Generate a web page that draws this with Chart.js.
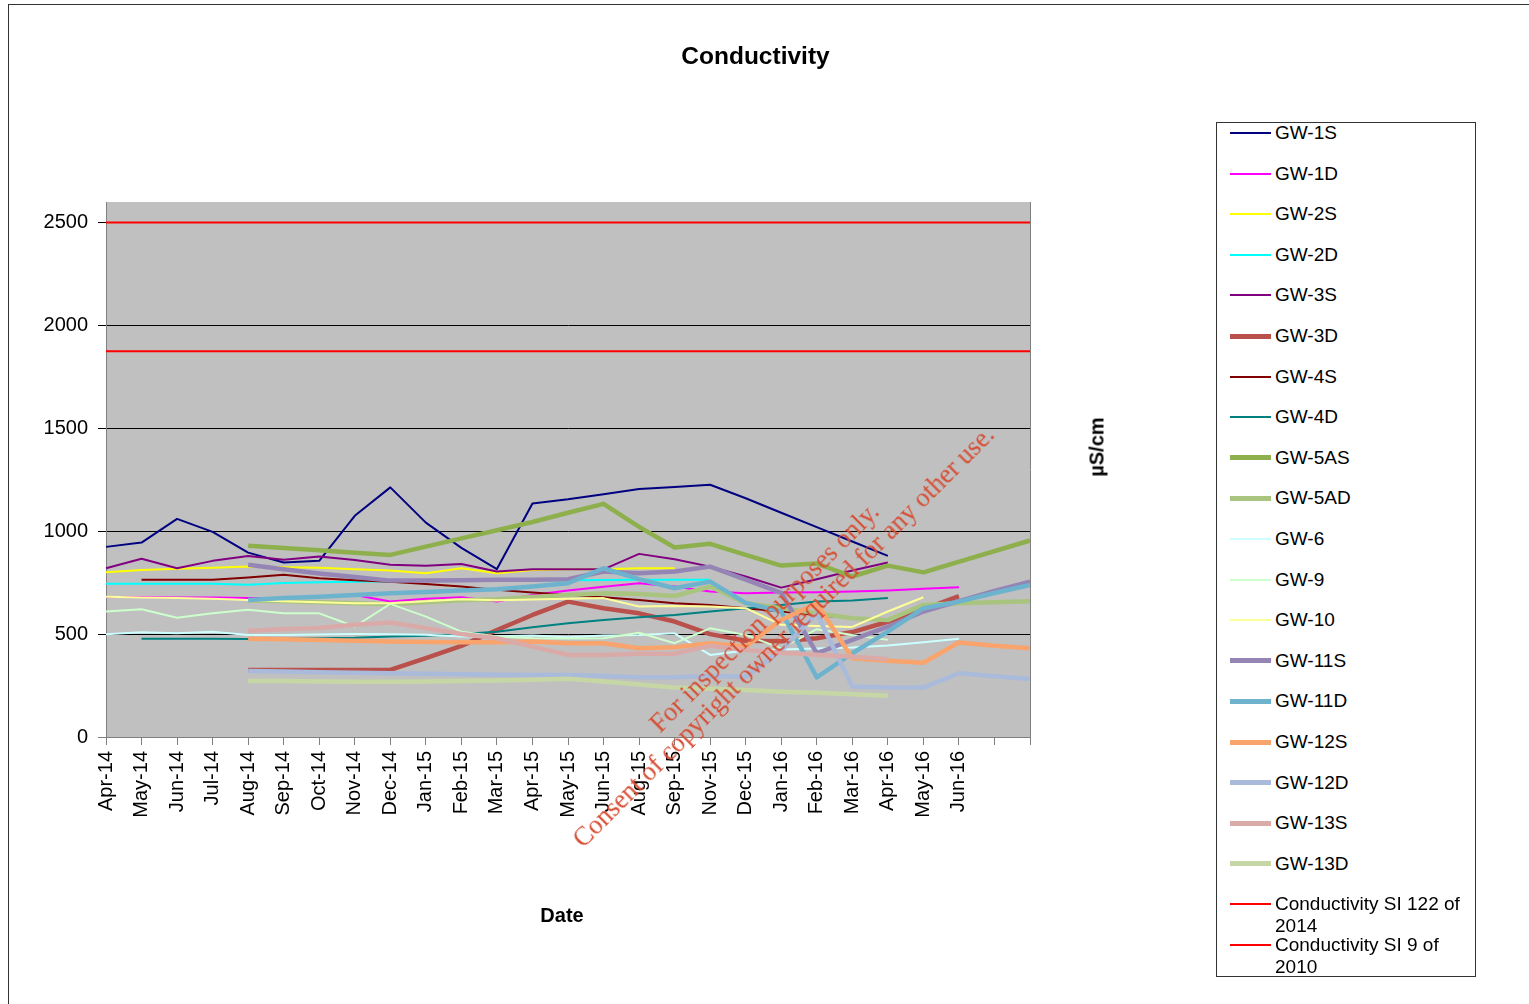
<!DOCTYPE html>
<html>
<head>
<meta charset="utf-8">
<script src="https://cdn.jsdelivr.net/npm/chart.js@4.4.1/dist/chart.umd.min.js"></script>
<style>
html,body{margin:0;padding:0;background:#fff;}
#wrap{position:relative;width:1529px;height:1004px;overflow:hidden;font-family:"Liberation Sans",Arial,sans-serif;color:#000;}
#frame{position:absolute;left:8px;top:4px;width:1700px;height:1200px;border:1px solid #333;box-sizing:border-box;}
#c{position:absolute;left:0;top:0;}
#title{position:absolute;left:0;width:1511px;top:41px;line-height:30px;text-align:center;font-weight:bold;font-size:24.5px;}
#xtitle{position:absolute;left:462px;width:200px;top:903px;line-height:24px;text-align:center;font-weight:bold;font-size:20px;}
#ytitle{position:absolute;left:1097px;top:447px;transform:translate(-50%,-50%) rotate(-90deg);font-weight:bold;font-size:20px;white-space:nowrap;}
#legend{position:absolute;left:1216px;top:122px;width:260px;height:855px;border:1px solid #333;box-sizing:border-box;background:#fff;}
.li{position:absolute;left:0;width:250px;}
.li .sw{position:absolute;left:13px;width:41px;}
.li .tx{position:absolute;left:58px;width:190px;font-size:19px;line-height:22px;}
#wm{position:absolute;left:774px;top:627px;transform:translate(-50%,-50%) rotate(-45deg);font-family:"Liberation Serif","Times New Roman",serif;font-size:26.5px;line-height:27px;color:rgb(214,78,52);text-align:center;white-space:nowrap;}
</style>
</head>
<body>
<div id="wrap">
  <div id="frame"></div>
  <canvas id="c" width="1529" height="1004"></canvas>
  <div id="title">Conductivity</div>
  <div id="xtitle">Date</div>
  <div id="ytitle">µS/cm</div>
  <div id="legend"></div>
  <div id="wm">For inspection purposes only.<br>Consent of copyright owner required for any other use.</div>
</div>
<script>
const categories = ['Apr-14','May-14','Jun-14','Jul-14','Aug-14','Sep-14','Oct-14','Nov-14','Dec-14',
  'Jan-15','Feb-15','Mar-15','Apr-15','May-15','Jun-15','Aug-15','Sep-15','Nov-15','Dec-15',
  'Jan-16','Feb-16','Mar-16','Apr-16','May-16','Jun-16','',''];

const yTicks = [0, 500, 1000, 1500, 2000, 2500];

const seriesNames = ['GW-1S','GW-1D','GW-2S','GW-2D','GW-3S','GW-3D','GW-4S','GW-4D','GW-5AS','GW-5AD',
  'GW-6','GW-9','GW-10','GW-11S','GW-11D','GW-12S','GW-12D','GW-13S','GW-13D',
  'Conductivity SI 122 of 2014','Conductivity SI 9 of 2010'];

const gw1S  = [924,945,1060,997,896,848,856,1075,1213,1042,919,816,1135,1155,1180,1205,1215,1226,1160,1090,1020,950,880,null,null,null,null];
const gw1D  = [680,680,678,678,675,676,680,690,658,672,679,658,690,712,730,747,731,707,699,702,704,707,712,720,728,null,null];
const gw2S  = [801,812,818,822,828,825,822,815,809,796,820,796,812,815,815,820,820,null,null,null,null,null,null,null,null,null,null];
const gw2D  = [745,745,745,745,740,748,752,755,757,758,758,760,760,762,763,764,764,764,null,null,null,null,null,null,null,null,null];
const gw3S  = [820,866,820,856,880,861,877,860,837,832,841,804,815,815,815,890,864,828,780,726,767,809,848,null,null,null,null];
const gw3D  = [null,null,null,null,326,326,326,326,326,383,443,520,593,658,626,601,561,500,468,465,480,510,560,620,685,null,null];
const gw4S  = [null,764,764,764,775,788,772,762,755,743,731,715,702,690,679,666,650,642,626,610,593,577,570,null,null,null,null];
const gw4D  = [null,477,477,477,476,478,480,482,488,492,501,512,533,553,569,582,593,610,626,642,658,663,675,null,null,null,null];
const gw5AS = [null,null,null,null,930,918,907,895,885,925,965,1005,1045,1090,1133,1021,921,939,885,833,843,780,833,800,null,null,955];
const gw5AD = [null,null,null,null,665,660,655,650,645,655,665,670,680,690,698,695,685,731,650,626,601,577,568,642,650,655,660];
const gw6   = [499,509,504,512,496,496,498,500,499,497,488,490,493,485,493,496,504,399,420,425,430,435,445,460,477,null,null];
const gw9   = [610,621,580,601,618,601,601,537,647,585,512,488,480,479,480,507,456,528,496,431,524,496,472,null,null,null,null];
const gw10  = [682,678,675,672,666,660,655,650,650,660,670,665,668,672,675,634,637,634,626,545,540,535,610,679,null,null,null];
const gw11S = [null,null,null,null,837,815,795,778,760,760,762,764,764,767,804,796,804,828,765,700,407,472,536,610,660,710,755];
const gw11D = [null,null,null,null,666,675,682,690,699,705,712,718,731,747,820,767,723,755,652,610,290,407,512,626,658,700,739];
const gw12S = [null,null,null,null,477,475,472,468,464,462,460,460,464,456,456,431,436,456,439,569,650,383,371,361,459,443,431];
const gw12D = [null,null,null,null,321,318,315,312,310,307,305,303,301,301,297,290,290,297,293,420,600,245,240,240,310,295,282];
const gw13S = [null,null,null,null,516,524,530,545,556,529,501,480,439,399,399,404,405,443,423,410,400,390,379,null,null,null,null];
const gw13D = [null,null,null,null,272,272,270,269,269,270,272,275,278,283,270,255,240,235,228,220,215,208,201,null,null,null,null];
const limitSI122 = [2500,2500,2500,2500,2500,2500,2500,2500,2500,2500,2500,2500,2500,2500,2500,2500,2500,2500,2500,2500,2500,2500,2500,2500,2500,2500,2500];
const limitSI9   = [1875,1875,1875,1875,1875,1875,1875,1875,1875,1875,1875,1875,1875,1875,1875,1875,1875,1875,1875,1875,1875,1875,1875,1875,1875,1875,1875];

const seriesValues = [gw1S,gw1D,gw2S,gw2D,gw3S,gw3D,gw4S,gw4D,gw5AS,gw5AD,gw6,gw9,gw10,gw11S,gw11D,gw12S,gw12D,gw13S,gw13D,limitSI122,limitSI9];

const styles = [
  ['#000080',2],['#FF00FF',2],['#FFFF00',2],['#00FFFF',2],['#800080',2],['#B9504C',4.5],
  ['#800000',2],['#008080',2],['#8DB04C',4.5],['#A9C47E',4.5],['#CCFFFF',2],['#CCFFCC',2],
  ['#FFFF99',2],['#9585B5',4.5],['#6DB3CD',4.5],['#F9A46C',4.5],['#A9BADA',4.5],['#DAAAA9',4.5],
  ['#C6D7A5',4.5],['#FF0000',2],['#FF0000',2]
];

const datasets = seriesNames.map((n,i)=>({
  label:n, data:seriesValues[i], borderColor:styles[i][0], backgroundColor:styles[i][0],
  borderWidth:styles[i][1], pointRadius:0, pointHoverRadius:0, fill:false, tension:0,
  spanGaps:true, order:-i
}));

const FONT = '"Liberation Sans", Arial, sans-serif';

const plotBg = {
  id:'plotBg',
  beforeDraw(c){
    const {ctx, chartArea:a} = c;
    ctx.save();
    ctx.fillStyle = '#C0C0C0';
    ctx.fillRect(a.left, a.top, a.right-a.left, a.bottom-a.top);
    ctx.restore();
  },
  afterDraw(c){
    const {ctx, chartArea:a} = c;
    ctx.save();
    ctx.strokeStyle = '#808080';
    ctx.lineWidth = 1;
    ctx.beginPath();
    ctx.moveTo(a.right+0.5, a.top);
    ctx.lineTo(a.right+0.5, a.bottom);
    ctx.stroke();
    ctx.restore();
  }
};

new Chart(document.getElementById('c').getContext('2d'), {
  type:'line',
  data:{labels:categories, datasets},
  plugins:[plotBg],
  options:{
    responsive:false, animation:false, devicePixelRatio:1,
    layout:{padding:{left:0, right:499, top:202, bottom:0}},
    plugins:{legend:{display:false}, tooltip:{enabled:false}, title:{display:false}},
    elements:{line:{borderCapStyle:'butt', borderJoinStyle:'round'}},
    scales:{
      x:{
        type:'category', offset:false,
        grid:{drawOnChartArea:false, drawTicks:true, tickLength:8, color:'#808080'},
        border:{color:'#808080'},
        ticks:{autoSkip:false, maxRotation:90, minRotation:90, padding:6, color:'#000', font:{family:FONT, size:20}},
        afterFit(s){ s.height = 1004-737; }
      },
      y:{
        min:0, max:2600,
        afterBuildTicks(s){ s.ticks = yTicks.map(v=>({value:v})); },
        ticks:{padding:10, color:'#000', font:{family:FONT, size:20}, callback:(v)=>String(v)},
        grid:{color:(ctx)=> (ctx.tick && ctx.tick.value===0) ? '#808080' : '#000', tickLength:8, lineWidth:1},
        border:{color:'#808080'},
        afterFit(s){ s.width = 106; }
      }
    }
  }
});

// legend (HTML, built from the same series definitions)
const lg = document.getElementById('legend');
const rowTops = seriesNames.map((_,i)=> 132 + i*40.6 - 122);
seriesNames.forEach((n,i)=>{
  const row = document.createElement('div');
  row.className='li';
  row.style.top = (rowTops[i]-11)+'px';
  const sw = document.createElement('div');
  sw.className='sw';
  const w = styles[i][1] > 3 ? 5 : 2;
  sw.style.top = (11 - w/2)+'px';
  sw.style.height = w+'px';
  sw.style.background = styles[i][0];
  const tx = document.createElement('div');
  tx.className='tx';
  tx.textContent = n;
  row.appendChild(sw); row.appendChild(tx);
  lg.appendChild(row);
});
</script>
</body>
</html>
